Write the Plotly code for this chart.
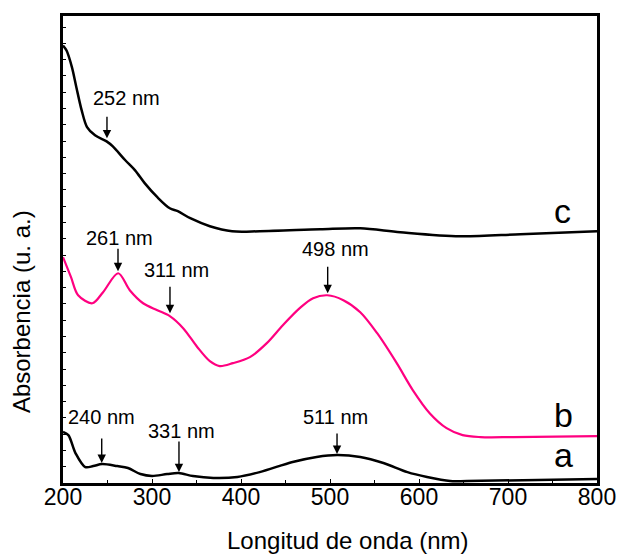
import plotly.graph_objects as go

# ---- data (wavelength in nm, absorbance in arbitrary units, offset spectra) ----
wl_a = [200, 206, 214, 225, 234, 244, 261, 273, 287, 300, 317, 330, 346, 369, 396,
        421, 458, 485, 508, 534, 560, 587, 609, 635, 654, 800]
abs_a = [0.313, 0.294, 0.184, 0.098, 0.104, 0.117, 0.104, 0.092, 0.055, 0.043, 0.055,
         0.061, 0.043, 0.031, 0.037, 0.067, 0.129, 0.160, 0.172, 0.160, 0.123,
         0.067, 0.037, 0.012, 0.012, 0.025]

wl_b = [200, 209, 217, 233, 245, 262, 275, 290, 306, 320, 335, 351, 365, 376, 391,
        410, 429, 447, 466, 481, 497, 515, 534, 553, 575, 593, 612, 631, 649,
        669, 706, 800]
abs_b = [1.387, 1.264, 1.153, 1.104, 1.172, 1.288, 1.184, 1.104, 1.061, 1.025, 0.951,
         0.834, 0.748, 0.718, 0.736, 0.773, 0.859, 0.969, 1.074, 1.135, 1.153, 1.123,
         1.049, 0.920, 0.736, 0.571, 0.429, 0.337, 0.294, 0.282, 0.282, 0.288]

wl_c = [200, 204, 210, 215, 221, 227, 236, 249, 256, 270, 281, 292, 306, 320, 329,
        343, 365, 390, 421, 489, 534, 579, 646, 714, 800]
abs_c = [2.687, 2.656, 2.554, 2.431, 2.288, 2.186, 2.135, 2.098, 2.067, 1.982, 1.920,
         1.840, 1.755, 1.687, 1.669, 1.626, 1.577, 1.546, 1.546, 1.558, 1.564, 1.540,
         1.515, 1.528, 1.546]

series_names = ["a", "b", "c"]
x_ticks = [200, 300, 400, 500, 600, 700, 800]

# peak marks: label, arrow x, arrow tail y, arrow tip y, label x, label y
peak_labels = ["252 nm", "261 nm", "311 nm", "498 nm", "240 nm", "331 nm", "511 nm"]
peak_x      = [249.4, 261.8, 320.2, 497.4, 243.5, 330.3, 507.9]
peak_tail_y = [2.258, 1.448, 1.215, 1.337, 0.282, 0.264, 0.313]
peak_tip_y  = [2.117, 1.301, 1.043, 1.166, 0.123, 0.067, 0.178]
label_x     = [270.8, 264.0, 327.0, 506.7, 243.8, 333.7, 506.7]
label_y     = [2.362, 1.503, 1.307, 1.436, 0.405, 0.319, 0.405]

FONT = "Liberation Sans, Arial, sans-serif"

fig = go.Figure()
fig.add_trace(go.Scatter(x=wl_a, y=abs_a, mode="lines", name=series_names[0],
                         line=dict(color="black", width=2.5, shape="spline", smoothing=0.9)))
fig.add_trace(go.Scatter(x=wl_b, y=abs_b, mode="lines", name=series_names[1],
                         line=dict(color="#FF0080", width=2.2, shape="spline", smoothing=0.9)))
fig.add_trace(go.Scatter(x=wl_c, y=abs_c, mode="lines", name=series_names[2],
                         line=dict(color="black", width=2.5, shape="spline", smoothing=0.9)))

annotations = []
for lab, px, ty, hy, lx, ly in zip(peak_labels, peak_x, peak_tail_y, peak_tip_y, label_x, label_y):
    annotations.append(dict(x=px, y=hy, ax=px, ay=ty, xref="x", yref="y", axref="x", ayref="y",
                            text="", showarrow=True, arrowhead=2, arrowsize=1.2,
                            arrowwidth=1.4, arrowcolor="black"))
    annotations.append(dict(x=lx, y=ly, xref="x", yref="y", text=lab, showarrow=False,
                            font=dict(family=FONT, size=20, color="black"),
                            xanchor="center", yanchor="middle"))

# curve letters
for name, lx, ly in zip(series_names, [761.8, 761.8, 760.7], [0.172, 0.420, 1.669]):
    annotations.append(dict(x=lx, y=ly, xref="x", yref="y", text=name, showarrow=False,
                            font=dict(family=FONT, size=34, color="black"),
                            xanchor="center", yanchor="middle"))

# axis titles
annotations.append(dict(x=0.534, y=-0.124, xref="paper", yref="paper",
                        text="Longitud de onda (nm)", showarrow=False,
                        font=dict(family=FONT, size=24, color="black"),
                        xanchor="center", yanchor="middle"))
annotations.append(dict(x=-0.0787, y=0.368, xref="paper", yref="paper",
                        text="Absorbencia (u. a.)", showarrow=False, textangle=-90,
                        font=dict(family=FONT, size=24, color="black"),
                        xanchor="center", yanchor="middle"))

fig.update_layout(
    width=617, height=554,
    margin=dict(l=63, r=20, t=16, b=71, autoexpand=False),
    paper_bgcolor="white", plot_bgcolor="white",
    showlegend=False,
    annotations=annotations,
    font=dict(family=FONT, color="black"),
)
fig.update_xaxes(range=[200, 800], tickvals=x_ticks, ticks="inside", ticklen=4,
                 tickwidth=1.2, tickcolor="black", automargin=False, ticklabelstandoff=-8,
                 minor=dict(dtick=50, ticks="inside", ticklen=3, tickcolor="black", tickwidth=1),
                 showline=True, linecolor="black", linewidth=2.5, mirror=True,
                 showgrid=False, zeroline=False,
                 tickfont=dict(family=FONT, size=23, color="black"))
fig.update_yaxes(range=[0, 2.868], dtick=0.1, tick0=0, ticks="inside", ticklen=3,
                 tickwidth=1, tickcolor="black", showticklabels=False, automargin=False,
                 showline=True, linecolor="black", linewidth=2.5, mirror=True,
                 showgrid=False, zeroline=False)

fig.write_html("out.html", config={"displayModeBar": False},
               post_script="document.body.style.margin='0px';document.body.style.overflow='hidden';")
